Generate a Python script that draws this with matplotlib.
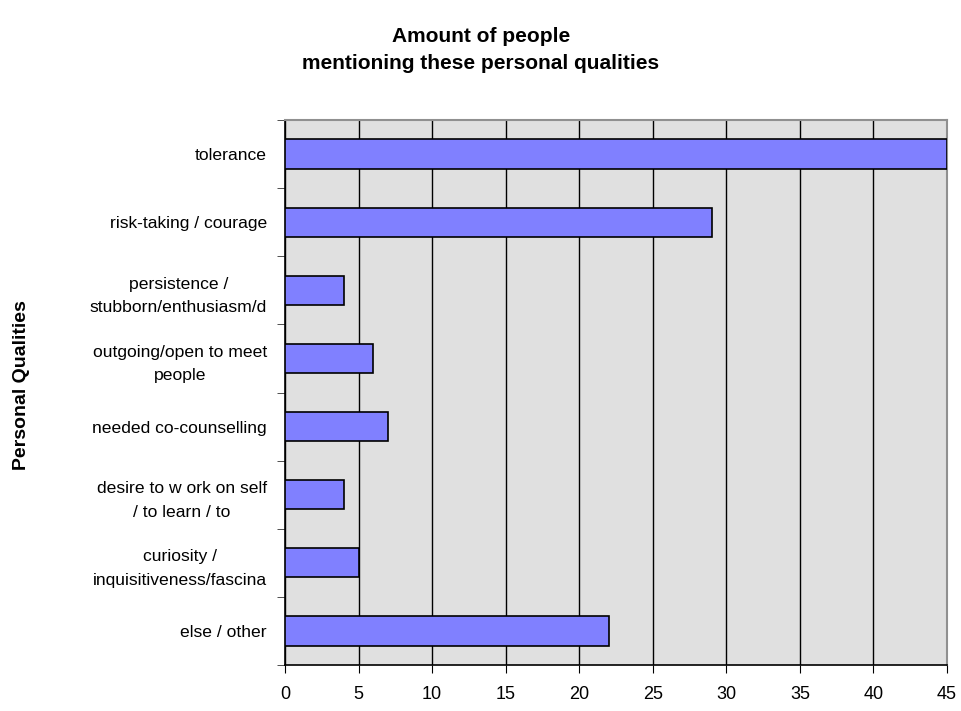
import numpy as np
import matplotlib.pyplot as plt

plt.rcParams['font.family'] = ['Liberation Sans', 'DejaVu Sans']

# Categories (top to bottom) and counts
categories = [
    'tolerance',
    'risk-taking / courage',
    'persistence /\nstubborn/enthusiasm/d',
    'outgoing/open to meet\npeople',
    'needed co-counselling',
    'desire to w ork on self\n/ to learn / to',
    'curiosity /\ninquisitiveness/fascina',
    'else / other',
]
counts = [45, 29, 4, 6, 7, 4, 5, 22]
x_ticks = [0, 5, 10, 15, 20, 25, 30, 35, 40, 45]

fig = plt.figure(figsize=(9.62, 7.11), dpi=100)
ax = fig.add_axes([285 / 962, 1 - 665 / 711, (947 - 285) / 962, (665 - 120) / 711])
ax.set_facecolor('#E0E0E0')

y = np.arange(len(categories))
ax.barh(y, counts, height=0.43, color='#8080FF', edgecolor='black', linewidth=1.2, zorder=3)

ax.set_ylim(len(categories) - 0.5, -0.5)
ax.set_xlim(0, 45)

ax.set_xticks(x_ticks)
ax.set_xticklabels([str(v) for v in x_ticks], fontsize=13)
ax.xaxis.grid(True, color='black', linewidth=1.0, zorder=1)

# category labels at centers, ticks at boundaries
ax.set_yticks(y)
ax.set_yticklabels(categories, fontsize=12.6, multialignment='center', linespacing=1.7)
ax.tick_params(axis='y', length=0, pad=13)
ax.set_yticks(np.arange(len(categories) + 1) - 0.5, minor=True)
ax.tick_params(axis='y', which='minor', length=6, direction='out', color='#333333')
ax.tick_params(axis='x', length=6, direction='out', pad=9)

for side in ['left', 'bottom']:
    ax.spines[side].set_color('black')
    ax.spines[side].set_linewidth(1.2)
for side in ['top', 'right']:
    ax.spines[side].set_color('#909090')
    ax.spines[side].set_linewidth(1.5)

fig.text(22 / 962, 1 - 385 / 711, 'Personal Qualities', rotation=90, ha='center', va='center',
         fontsize=14, fontweight='bold')
fig.text(0.5, 1 - 50 / 711, 'Amount of people\nmentioning these personal qualities',
         ha='center', va='center', fontsize=15, fontweight='bold', linespacing=1.55)

fig.savefig('out.png', dpi=100)
